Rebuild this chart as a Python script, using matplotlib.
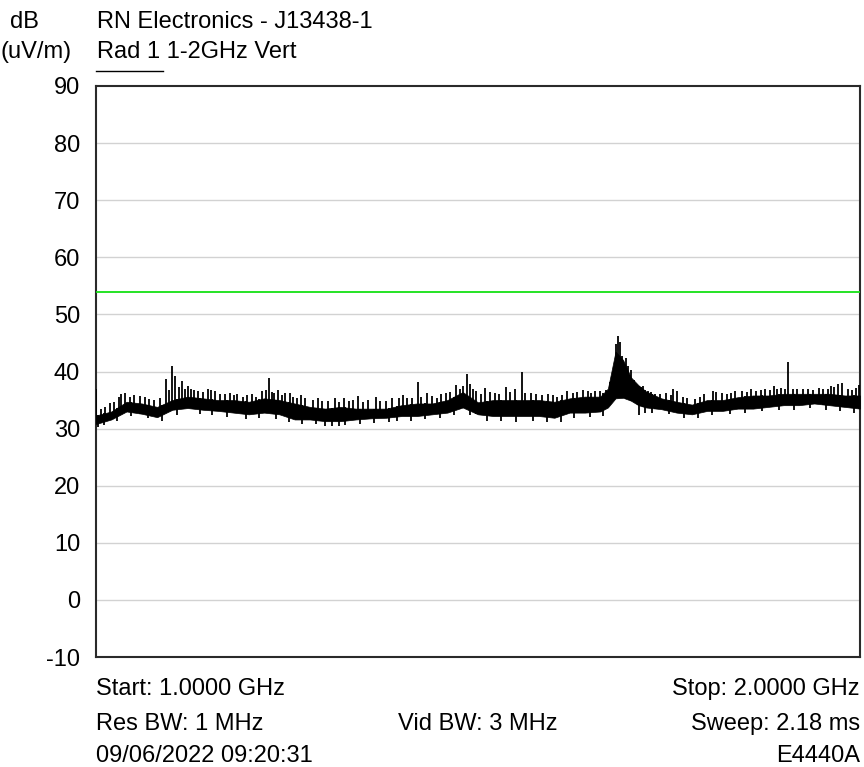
import numpy as np
import matplotlib.pyplot as plt
from matplotlib.lines import Line2D

plt.rcParams['font.family'] = ['Liberation Sans', 'DejaVu Sans']
plt.rcParams['axes.unicode_minus'] = False

# measured trace: envelope of the noise band (MHz, dBuV/m)
freq_mhz = [1000, 1020, 1040, 1060, 1080, 1100, 1120, 1140, 1160, 1180,
            1200, 1220, 1240, 1260, 1280, 1300, 1320, 1340, 1360, 1380,
            1400, 1420, 1440, 1460, 1480, 1500, 1520, 1540, 1560, 1580,
            1600, 1620, 1640, 1660, 1670, 1680, 1690, 1700, 1710, 1720,
            1740, 1760, 1780, 1800, 1820, 1840, 1860, 1880, 1900, 1920,
            1940, 1960, 1980, 2000]
band_low = [30.8, 31.6, 33.0, 32.6, 32.0, 33.3, 33.6, 33.3, 33.1, 32.8,
            32.5, 32.8, 32.5, 31.6, 31.6, 31.3, 31.3, 31.6, 31.8, 31.9,
            32.2, 32.2, 32.5, 32.8, 33.7, 32.5, 32.2, 32.2, 32.2, 32.2,
            31.9, 32.8, 32.8, 33.0, 33.7, 35.3, 35.4, 34.9, 34.1, 33.7,
            33.4, 32.8, 32.5, 33.1, 33.1, 33.5, 33.5, 33.8, 34.1, 34.1,
            34.4, 34.1, 33.8, 33.5]
band_high = [32.3, 33.0, 34.7, 34.4, 33.8, 35.0, 35.6, 35.3, 35.0, 35.0,
             34.7, 35.3, 35.0, 34.4, 33.8, 33.5, 33.8, 33.5, 33.5, 33.5,
             34.1, 34.4, 34.4, 35.0, 36.4, 34.6, 35.0, 35.0, 35.0, 35.0,
             34.7, 35.3, 35.6, 35.6, 37.0, 43.5, 42.0, 39.0, 37.6, 36.5,
             35.3, 34.7, 34.2, 35.0, 35.0, 35.5, 35.8, 35.8, 36.1, 36.1,
             36.1, 36.1, 35.8, 35.8]

# peaks standing above the band
spike_mhz = [1000, 1033, 1058, 1091, 1099, 1104, 1112, 1120, 1128, 1150,
             1169, 1185, 1204, 1217, 1223, 1227, 1233, 1243, 1254, 1263,
             1313, 1331, 1343, 1367, 1388, 1407, 1421, 1433, 1446, 1471,
             1481, 1485, 1494, 1509, 1536, 1548, 1557, 1570, 1616, 1638,
             1653, 1668, 1673, 1676, 1680, 1683, 1686, 1689, 1694, 1696,
             1709, 1713, 1722, 1755, 1761, 1807, 1820, 1831, 1857, 1888,
             1896, 1906, 1946, 1962, 1971, 1976, 1995,
             1006, 1012, 1018, 1024, 1030, 1038, 1044, 1050, 1064, 1070,
             1076, 1084, 1096, 1108, 1116, 1124, 1134, 1140, 1146, 1156,
             1162, 1176, 1180, 1192, 1198, 1210, 1230, 1238, 1248, 1258,
             1268, 1274, 1284, 1290, 1296, 1304, 1318, 1324, 1336, 1350,
             1356, 1372, 1380, 1396, 1402, 1414, 1426, 1440, 1452, 1458,
             1464, 1476, 1490, 1498, 1504, 1516, 1522, 1528, 1542, 1562,
             1576, 1584, 1592, 1598, 1604, 1610, 1624, 1630, 1644, 1648,
             1660, 1700, 1704, 1716, 1726, 1732, 1738, 1746, 1752, 1768,
             1774, 1784, 1790, 1796, 1812, 1826, 1836, 1846, 1852, 1864,
             1870, 1876, 1882, 1892, 1902, 1912, 1918, 1926, 1932, 1938,
             1952, 1958, 1966, 1984, 1990, 1999]
spike_db = [37.0, 36.0, 35.7, 38.6, 41.0, 39.2, 38.3, 37.4, 36.8, 36.8,
            36.0, 36.1, 36.1, 36.5, 36.8, 38.9, 36.3, 35.8, 36.3, 35.4,
            35.4, 34.8, 35.7, 35.5, 35.4, 35.4, 38.1, 36.3, 35.4, 37.7,
            37.4, 39.6, 37.0, 37.1, 37.3, 36.9, 40.0, 36.3, 36.5, 36.7,
            36.6, 36.7, 38.1, 39.2, 44.8, 46.3, 45.1, 42.7, 42.4, 41.0,
            37.5, 37.2, 36.6, 36.9, 36.6, 36.6, 36.3, 36.3, 37.0, 37.5,
            37.1, 41.7, 37.1, 37.4, 37.8, 37.9, 37.1,
            33.5, 33.8, 34.5, 34.6, 35.6, 36.3, 35.6, 35.9, 35.5, 35.2,
            35.0, 35.3, 36.8, 37.2, 36.9, 37.0, 36.6, 36.4, 37.0, 36.6,
            36.0, 36.2, 35.8, 35.5, 35.9, 35.6, 36.4, 36.7, 36.2, 35.6,
            35.8, 35.3, 35.0, 35.4, 34.9, 34.8, 34.6, 35.3, 35.0, 34.6,
            35.0, 34.8, 34.9, 35.3, 35.8, 35.4, 35.6, 35.7, 36.0, 36.3,
            36.4, 37.0, 37.8, 36.5, 36.0, 36.4, 36.2, 36.0, 36.4, 36.2,
            36.1, 35.9, 36.0, 35.8, 35.6, 35.9, 36.2, 36.4, 36.5, 36.2,
            36.5, 40.2, 38.5, 37.4, 36.4, 36.0, 36.1, 36.3, 35.8, 35.5,
            35.3, 35.2, 35.6, 36.0, 36.4, 36.0, 36.5, 36.6, 36.4, 36.6,
            36.8, 37.0, 36.8, 36.9, 37.0, 36.9, 36.9, 37.0, 37.0, 36.8,
            36.9, 37.0, 37.2, 36.9, 36.8, 37.6]

# downward excursions below the band
dip_mhz = [1002, 1010, 1028, 1046, 1068, 1086, 1106, 1136, 1152, 1172,
           1196, 1214, 1236, 1252, 1270, 1288, 1300, 1309, 1318, 1326,
           1346, 1364, 1384, 1394, 1412, 1430, 1450, 1468, 1490, 1512,
           1530, 1550, 1572, 1590, 1609, 1626, 1646, 1664, 1711, 1718,
           1728, 1750, 1770, 1788, 1806, 1830, 1850, 1872, 1894, 1914,
           1934, 1956, 1974, 1992]
dip_db = [30.2, 30.6, 31.4, 32.2, 31.8, 31.3, 32.3, 32.5, 32.3, 32.0,
          31.6, 31.8, 31.6, 31.2, 30.8, 30.8, 30.5, 30.5, 30.4, 30.6,
          30.8, 31.0, 31.1, 31.3, 31.3, 31.7, 31.9, 32.3, 32.4, 31.3,
          31.4, 31.2, 31.3, 31.1, 31.2, 31.9, 32.0, 32.2, 32.3, 32.8,
          32.7, 32.5, 31.9, 31.8, 32.3, 32.5, 32.8, 33.0, 33.3, 33.3,
          33.6, 33.3, 33.0, 32.8]

limit_db = 54
yticks = list(range(-10, 91, 10))

fig = plt.figure(figsize=(8.64, 7.67), dpi=100)
ax = fig.add_axes([96 / 864, 1 - 657 / 767, 764 / 864, 571 / 767])

ax.set_xlim(1000, 2000)
ax.set_ylim(-10, 90)
ax.set_yticks(yticks)
ax.set_xticks([])
ax.tick_params(axis='y', length=0, pad=11.5, labelsize=17)
for s in ax.spines.values():
    s.set_linewidth(1.5)
    s.set_color('#2a2a2a')
for v in yticks[1:-1]:
    ax.axhline(v, color='#d2d2d2', lw=1, zorder=1)

ax.axhline(limit_db, color='#14e014', lw=1.3, zorder=3)

ax.fill_between(freq_mhz, band_low, band_high, color='black', lw=0.5,
                edgecolor='black', zorder=4)
base = np.interp(spike_mhz, freq_mhz, band_low)
ax.vlines(spike_mhz, base, spike_db, color='black', lw=1.3, zorder=4)
top = np.interp(dip_mhz, freq_mhz, band_high)
ax.vlines(dip_mhz, dip_db, top, color='black', lw=1.3, zorder=4)

fs = 17
W, H = 864, 767


def put(x, y, s, ha='left'):
    fig.text(x / W, 1 - y / H, s, ha=ha, va='baseline', fontsize=fs)


put(10, 28, 'dB')
put(97, 28, 'RN Electronics - J13438-1')
put(1, 58, '(uV/m)')
put(97, 58, 'Rad 1 1-2GHz Vert')
fig.add_artist(Line2D([96 / W, 163 / W], [1 - 71 / H, 1 - 71 / H],
                      color='black', lw=1))

put(96, 695, 'Start: 1.0000 GHz')
put(96, 730, 'Res BW: 1 MHz')
put(96, 762, '09/06/2022 09:20:31')
put(478, 730, 'Vid BW: 3 MHz', ha='center')
put(860, 695, 'Stop: 2.0000 GHz', ha='right')
put(860, 730, 'Sweep: 2.18 ms', ha='right')
put(860, 762, 'E4440A', ha='right')

fig.savefig('out.png', dpi=100)
